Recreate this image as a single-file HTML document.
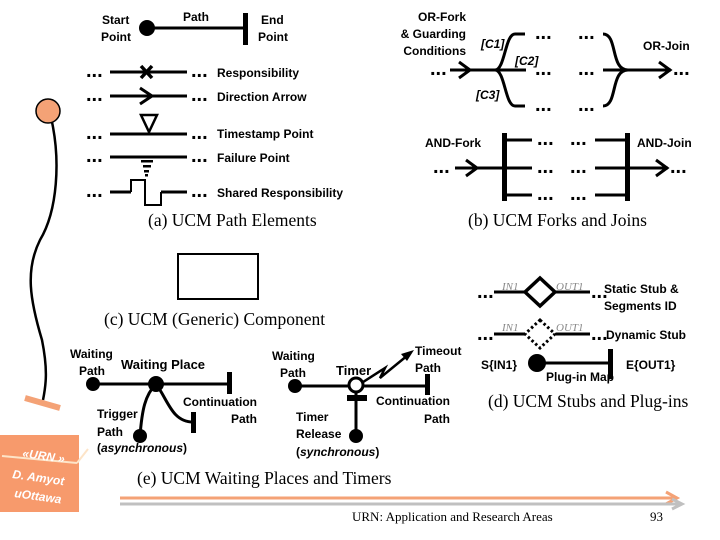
<!DOCTYPE html>
<html><head><meta charset="utf-8"><style>
body{margin:0;background:#fff;}
svg{display:block;}
.s{font-family:"Liberation Sans",sans-serif;font-weight:bold;font-size:12px;fill:#000;}
.c{font-family:"Liberation Serif",serif;font-size:17.5px;fill:#000;}
.g{font-family:"Liberation Serif",serif;font-style:italic;font-size:11px;fill:#888;}
.d{font-family:"Liberation Sans",sans-serif;font-weight:bold;font-size:20px;fill:#000;}
</style></head><body>
<svg width="720" height="540" viewBox="0 0 720 540" xmlns="http://www.w3.org/2000/svg">
<g stroke="#000" stroke-width="3" fill="none">
<line x1="147" y1="28" x2="245" y2="28"/>
<line x1="110" y1="72" x2="187" y2="72"/>
<line x1="110" y1="96" x2="187" y2="96"/>
<line x1="110" y1="134" x2="187" y2="134"/>
<line x1="110" y1="157" x2="187" y2="157"/>
<line x1="110" y1="192" x2="131" y2="192"/><line x1="161" y1="192" x2="187" y2="192"/>
<path d="M141 66 L152 78 M152 66 L141 78" stroke-width="3.5"/>
<path d="M140 88 L152 96 L140 104"/>
<path d="M141 115 L157 115 L149 132 Z" stroke-width="2.5"/>
<path d="M131 192 V180 H145 V205 H161 V192" stroke-width="2"/>
</g>
<circle cx="147" cy="28" r="8"/>
<rect x="243" y="13" width="5" height="32"/>
<rect x="141" y="160" width="12" height="2.5"/><rect x="143" y="165" width="8" height="2.5"/><rect x="144" y="170" width="5" height="2.5"/><rect x="145" y="174" width="3" height="2.5"/>
<g class="s">
<text x="102" y="24">Start</text><text x="101" y="41">Point</text>
<text x="183" y="21">Path</text>
<text x="261" y="24">End</text><text x="258" y="41">Point</text>
<text x="217" y="77">Responsibility</text>
<text x="217" y="101">Direction Arrow</text>
<text x="217" y="138">Timestamp Point</text>
<text x="217" y="162">Failure Point</text>
<text x="217" y="197">Shared Responsibility</text>
</g>
<g class="d">
<text x="86" y="77">...</text><text x="191" y="77">...</text>
<text x="86" y="101">...</text><text x="191" y="101">...</text>
<text x="86" y="139">...</text><text x="191" y="139">...</text>
<text x="86" y="162">...</text><text x="191" y="162">...</text>
<text x="86" y="197">...</text><text x="191" y="197">...</text>
</g>
<text class="c" x="148" y="226">(a) UCM Path Elements</text>

<g stroke="#000" stroke-width="3" fill="none">
<line x1="450" y1="70" x2="526" y2="70"/>
<path d="M459 62 L470 70 L459 78"/>
<path d="M495 70 C505 70 505 34 515 34 L525 34"/>
<path d="M495 70 C505 70 505 106 515 106 L525 106"/>
<path d="M603 34 C618 34 610 70 628 70 M603 106 C618 106 610 70 628 70"/>
<line x1="603" y1="70" x2="671" y2="70"/>
<path d="M659 62 L670 70 L659 78"/>
<line x1="455" y1="168" x2="504" y2="168"/>
<path d="M466 160 L477 168 L466 176"/>
<line x1="504" y1="140" x2="532" y2="140"/><line x1="504" y1="168" x2="532" y2="168"/><line x1="504" y1="195" x2="532" y2="195"/>
<line x1="595" y1="140" x2="627" y2="140"/><line x1="595" y1="168" x2="627" y2="168"/><line x1="595" y1="195" x2="627" y2="195"/>
<line x1="627" y1="168" x2="668" y2="168"/>
<path d="M656 160 L667 168 L656 176"/>
</g>
<rect x="502" y="133" width="5" height="68"/>
<rect x="625" y="133" width="5" height="68"/>
<g class="d">
<text x="430" y="75">...</text><text x="673" y="75">...</text>
<text x="535" y="39">...</text><text x="578" y="39">...</text>
<text x="535" y="75">...</text><text x="578" y="75">...</text>
<text x="535" y="111">...</text><text x="578" y="111">...</text>
<text x="433" y="173">...</text><text x="670" y="173">...</text>
<text x="537" y="145">...</text><text x="570" y="145">...</text>
<text x="537" y="173">...</text><text x="570" y="173">...</text>
<text x="537" y="200">...</text><text x="570" y="200">...</text>
</g>
<g class="s">
<text x="466" y="21" text-anchor="end">OR-Fork</text>
<text x="466" y="38" text-anchor="end">&amp; Guarding</text>
<text x="466" y="55" text-anchor="end">Conditions</text>
<text x="481" y="48" font-style="italic">[C1]</text>
<text x="515" y="65" font-style="italic">[C2]</text>
<text x="476" y="99" font-style="italic">[C3]</text>
<text x="643" y="50">OR-Join</text>
<text x="425" y="147">AND-Fork</text>
<text x="637" y="147">AND-Join</text>
</g>
<text class="c" x="468" y="226">(b) UCM Forks and Joins</text>

<rect x="178" y="254" width="80" height="45" fill="none" stroke="#000" stroke-width="2"/>
<text class="c" x="104" y="325">(c) UCM (Generic) Component</text>

<g stroke="#000" stroke-width="3" fill="none">
<line x1="494" y1="292" x2="525" y2="292"/><line x1="556" y1="292" x2="590" y2="292"/>
<path d="M540 278 L555 292 L540 306 L525 292 Z" stroke-width="3.5"/>
<line x1="494" y1="334" x2="525" y2="334"/><line x1="556" y1="334" x2="590" y2="334"/>
<path d="M540 320 L555 334 L540 348 L525 334 Z" stroke-dasharray="2.5 2.5"/>
<line x1="537" y1="363" x2="610" y2="363"/>
</g>
<circle cx="537" cy="363" r="9"/>
<rect x="608" y="349" width="5" height="30"/>
<g class="d">
<text x="477" y="298">...</text><text x="591" y="298">...</text>
<text x="477" y="340">...</text><text x="591" y="340">...</text>
</g>
<text class="g" x="502" y="290">IN1</text><text class="g" x="556" y="290">OUT1</text>
<text class="g" x="502" y="331">IN1</text><text class="g" x="556" y="331">OUT1</text>
<g class="s">
<text x="604" y="293">Static Stub &amp;</text><text x="604" y="310">Segments ID</text>
<text x="606" y="339">Dynamic Stub</text>
<text x="481" y="369">S{IN1}</text>
<text x="626" y="369">E{OUT1}</text>
<text x="546" y="381">Plug-in Map</text>
</g>
<text class="c" x="488" y="407">(d) UCM Stubs and Plug-ins</text>

<g stroke="#000" stroke-width="3" fill="none">
<line x1="93" y1="384" x2="229" y2="384"/>
<path d="M156 384 C145 395 142 410 140 436"/>
<path d="M156 384 C168 400 172 422 193 422"/>
<line x1="295" y1="386" x2="427" y2="386"/>
<line x1="356" y1="386" x2="356" y2="436"/>
<path d="M360 384 L385 368 L380 378 L408 355" stroke-width="2.5"/>
</g>
<path d="M401 354 L414 350 L407 361 Z"/>
<circle cx="93" cy="384" r="7"/><circle cx="156" cy="384" r="8"/><circle cx="140" cy="436" r="7"/>
<rect x="227" y="372" width="5" height="22"/><rect x="191" y="412" width="5" height="21"/>
<circle cx="295" cy="386" r="7"/>
<circle cx="356" cy="385" r="7" fill="#fff" stroke="#000" stroke-width="3"/>
<rect x="347" y="395" width="20" height="6"/>
<circle cx="356" cy="436" r="7"/>
<rect x="425" y="374" width="5" height="21"/>
<g class="s">
<text x="70" y="358">Waiting</text><text x="79" y="375">Path</text>
<text x="121" y="369" font-size="13">Waiting Place</text>
<text x="183" y="406">Continuation</text><text x="231" y="423">Path</text>
<text x="97" y="418">Trigger</text><text x="97" y="436">Path</text>
<text x="97" y="452">(<tspan font-style="italic">asynchronous</tspan>)</text>
<text x="272" y="360">Waiting</text><text x="280" y="377">Path</text>
<text x="336" y="375" font-size="13">Timer</text>
<text x="415" y="355">Timeout</text><text x="415" y="372">Path</text>
<text x="376" y="405">Continuation</text><text x="424" y="423">Path</text>
<text x="296" y="421">Timer</text><text x="296" y="438">Release</text>
<text x="296" y="456">(<tspan font-style="italic">synchronous</tspan>)</text>
</g>
<text class="c" x="137" y="484" font-size="18.5">(e) UCM Waiting Places and Timers</text>

<path d="M52 122 C60 160 58 210 40 240 C25 270 30 300 42 340 C48 370 46 385 43 400" stroke="#000" stroke-width="2.5" fill="none"/>
<circle cx="48" cy="111" r="12" fill="#f4a276" stroke="#000" stroke-width="1.5"/>
<path d="M25 398 L60 408" stroke="#f4a276" stroke-width="6"/>
<rect x="0" y="435" width="79" height="77" fill="#f79a6c"/>
<line x1="2" y1="456" x2="77" y2="463" stroke="#fde4c8" stroke-width="2"/>
<line x1="77" y1="463" x2="88" y2="449" stroke="#fde4c8" stroke-width="2"/>
<g font-family="Liberation Sans,sans-serif" font-weight="bold" font-style="italic" font-size="12" fill="#fff">
<text x="22" y="457" transform="rotate(8 22 457)">«URN »</text>
<text x="12" y="478" transform="rotate(8 12 478)">D. Amyot</text>
<text x="14" y="497" transform="rotate(8 14 497)">uOttawa</text>
</g>
<line x1="120" y1="498" x2="676" y2="498" stroke="#f4a276" stroke-width="3"/>
<path d="M666 492 L677 498 L666 504" stroke="#f4a276" stroke-width="3" fill="none"/>
<line x1="120" y1="504" x2="680" y2="504" stroke="#c0c0c0" stroke-width="3"/>
<path d="M672 499 L682 504 L672 509" stroke="#c0c0c0" stroke-width="3" fill="none"/>
<text x="352" y="521" font-family="Liberation Serif,serif" font-size="13">URN: Application and Research Areas</text>
<text x="650" y="521" font-family="Liberation Serif,serif" font-size="13">93</text>
</svg>
</body></html>
